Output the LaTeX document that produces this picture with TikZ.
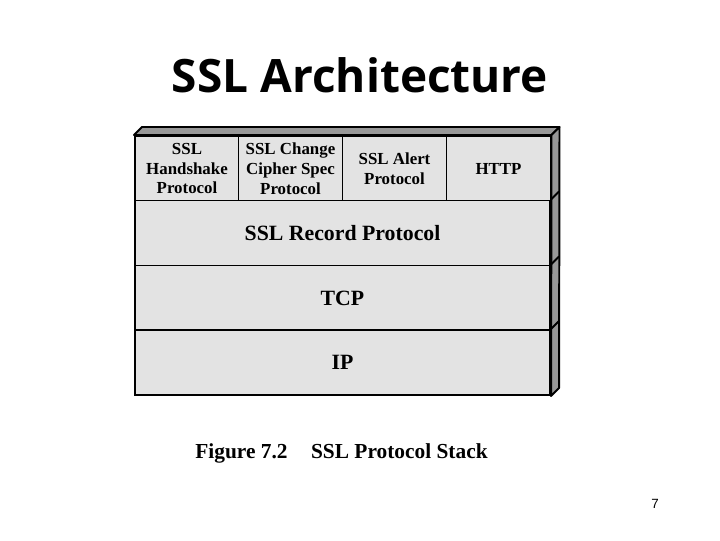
\documentclass[tikz,border=0pt]{standalone}
\usepackage{fontspec}
\setmainfont{Liberation Serif}
\newfontfamily\titlefont{Open Sans}
\newfontfamily\pagefont{Liberation Sans}
\definecolor{cellgray}{HTML}{E3E3E3}
\definecolor{sidegray}{HTML}{989898}
\tikzset{
	layer/.style={draw=black,line width=1.4pt,fill=cellgray,inner sep=0pt,align=center,font=\bfseries\fontsize{15.5}{15.5}\selectfont,minimum width=10.375cm,minimum height=1.625cm},
	cell/.style={layer,font=\bfseries\fontsize{12}{14.2}\selectfont,minimum width=2.6cm},
	face/.style={draw=black,line width=1.4pt,fill=sidegray,line join=round}
}
\begin{document}
\begin{tikzpicture}[x=0.025cm,y=-0.025cm]
	\useasboundingbox (0,0) rectangle (720,540);
	\fill[white] (0,0) rectangle (720,540);

	\node[font=\titlefont\bfseries\fontsize{32.7}{32.7}\selectfont] (title) at (360,75) {SSL Architecture};

	\node[cell] (handshake) at (187,168.5) {SSL\\Handshake\\Protocol};
	\node[cell] (change) at (290.5,168.5) {SSL Change\\Cipher Spec\\Protocol};
	\node[cell] (alert) at (394.5,168.5) {SSL Alert\\Protocol};
	\node[cell] (http) at (498.5,168.5) {HTTP};
	\node[layer] (record) at (342.5,233) {SSL Record Protocol};
	\node[layer] (tcp) at (342.5,298) {TCP};
	\node[layer] (ip) at (342.5,362.5) {IP};

	\coordinate (topa) at ([shift={(8,-8)}]handshake.north west);
	\coordinate (topb) at ([shift={(8,-8)}]http.north east);
	\coordinate (sidea) at ([shift={(8,-8)}]record.north east);
	\coordinate (sideb) at ([shift={(8,-8)}]tcp.north east);
	\coordinate (sidec) at ([shift={(8,-8)}]ip.north east);
	\coordinate (sided) at ([shift={(8,-8)}]ip.south east);

	\draw[face] (handshake.north west) -- (topa) -- (topb) -- (http.north east) -- cycle;
	\draw[face] (http.north east) -- (topb) -- (sided) -- (ip.south east) -- cycle;
	\draw[line width=1.4pt] (record.north east) -- (sidea);
	\draw[line width=1.4pt] (tcp.north east) -- (sideb);
	\draw[line width=1.4pt] (ip.north east) -- (sidec);

	\node[font=\bfseries\fontsize{15.2}{15.2}\selectfont] (caption) at (341.5,453) {Figure 7.2\hspace{1.1em}SSL Protocol Stack};
	\node[font=\pagefont\fontsize{9.5}{9.5}\selectfont] (page) at (655,504) {7};
\end{tikzpicture}
\end{document}
